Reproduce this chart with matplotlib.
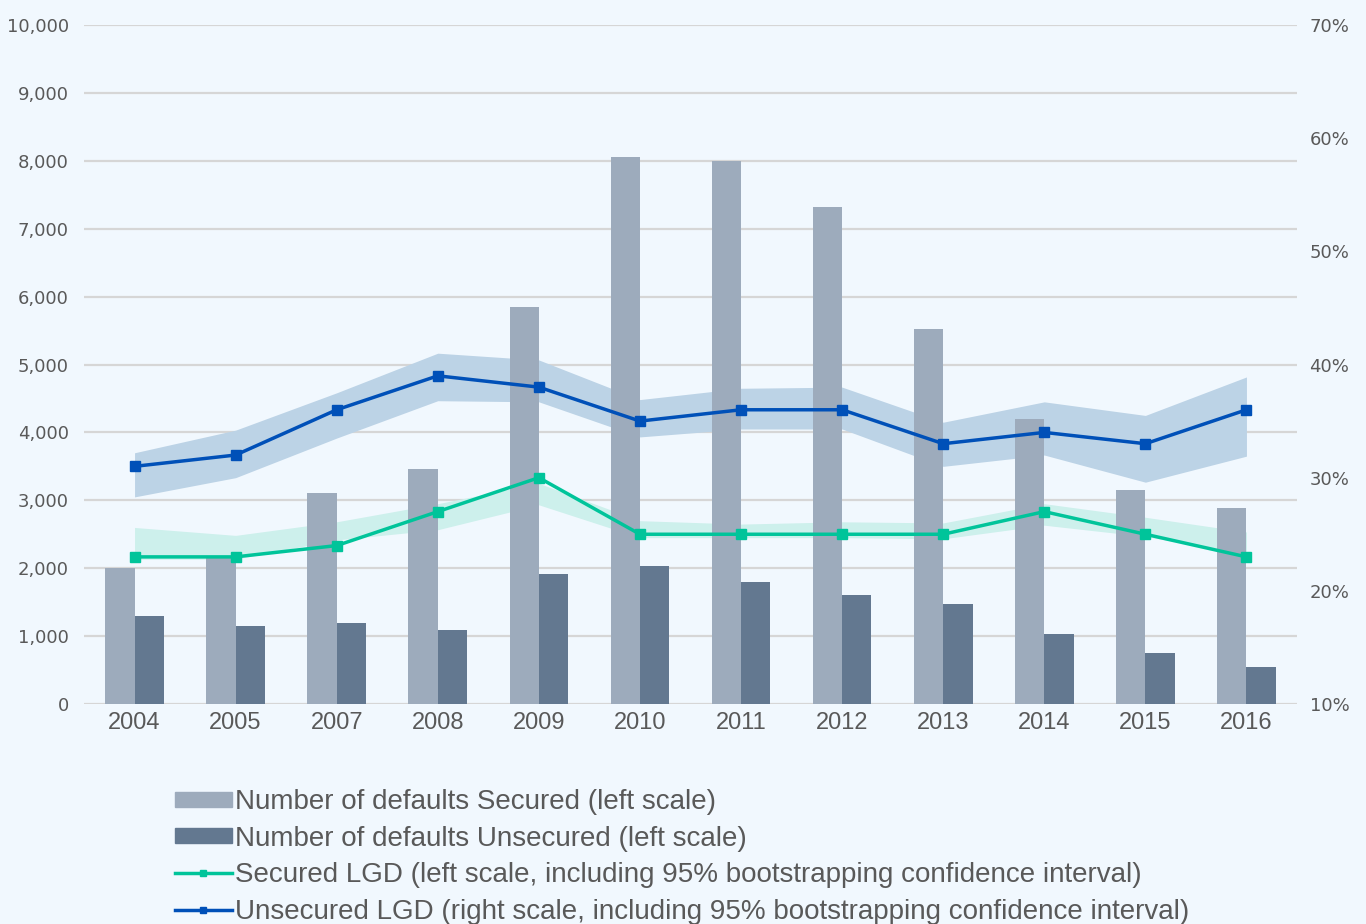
import matplotlib.pyplot as plt
from matplotlib.patches import Patch
from matplotlib.lines import Line2D
import numpy as np


years = ["2004", "2005", "2007", "2008", "2009", "2010", "2011", "2012", "2013", "2014", "2015", "2016"]

# number of defaults (left scale)
secured_n = [2010, 2150, 3110, 3460, 5850, 8050, 8000, 7320, 5520, 4200, 3150, 2890]
unsecured_n = [1290, 1150, 1200, 1090, 1910, 2030, 1790, 1610, 1470, 1030, 750, 540]

# LGD in % (right scale) with 95% bootstrap interval
secured_lgd = [23, 23, 24, 27, 30, 25, 25, 25, 25, 27, 25, 23]
secured_lo = [22.8, 22.8, 24.5, 25.4, 27.6, 24.7, 24.7, 24.7, 24.6, 25.8, 24.8, 23.3]
secured_hi = [25.6, 24.9, 26.1, 27.7, 29.5, 26.2, 25.9, 26.1, 26.0, 27.7, 26.5, 25.2]

unsecured_lgd = [31, 32, 36, 39, 38, 35, 36, 36, 33, 34, 33, 36]
unsecured_lo = [28.3, 30.0, 33.5, 36.8, 36.7, 33.6, 34.3, 34.3, 31.0, 32.0, 29.6, 31.9]
unsecured_hi = [32.2, 34.2, 37.5, 41.0, 40.4, 36.9, 37.9, 38.0, 34.9, 36.7, 35.5, 38.9]

left_ticks = list(range(0, 10001, 1000))
right_ticks = [10, 20, 30, 40, 50, 60, 70]

labels = ["Number of defaults Secured (left scale)",
          "Number of defaults Unsecured (left scale)",
          "Secured LGD (left scale, including 95% bootstrapping confidence interval)",
          "Unsecured LGD (right scale, including 95% bootstrapping confidence interval)"]

bg = "#f1f8fe"
c_sec_bar = "#9dabbc"
c_uns_bar = "#637890"
c_sec_line = "#00c49a"
c_sec_band = "#cdf0ec"
c_uns_line = "#0050b8"
c_uns_band = "#bcd3e6"
txt = "#595959"

fig = plt.figure(figsize=(13.66, 9.24), dpi=100, facecolor=bg)
ax = fig.add_axes([84 / 1366, 1 - 704 / 924, (1297 - 84) / 1366, (704 - 25) / 924])
ax.set_facecolor(bg)
axp = ax.twinx()

x = np.arange(len(years))
w = 0.29

ax.set_xlim(-0.5, len(years) - 0.5)
ax.set_ylim(0, 10000)
axp.set_ylim(10, 70)

# bands and lines live on ax (for stacking order) but use the percent scale
tp = axp.transData
ax.fill_between(x, unsecured_lo, unsecured_hi, color=c_uns_band, lw=0, zorder=1, transform=tp)
ax.fill_between(x, secured_lo, secured_hi, color=c_sec_band, lw=0, zorder=1, transform=tp)

ax.bar(x - w / 2, secured_n, width=w, color=c_sec_bar, zorder=2)
ax.bar(x + w / 2, unsecured_n, width=w, color=c_uns_bar, zorder=2)

ax.plot(x, secured_lgd, color=c_sec_line, lw=2.5, marker="s", ms=6.5, zorder=3, transform=tp)
ax.plot(x, unsecured_lgd, color=c_uns_line, lw=2.5, marker="s", ms=6.5, zorder=3, transform=tp)

ax.set_yticks(left_ticks)
ax.set_yticklabels([f"{v:,}" for v in left_ticks])
ax.grid(axis="y", color="#d6d6d6", lw=1.6, zorder=0)
ax.set_axisbelow(True)
ax.set_xticks(x)
ax.set_xticklabels(years, family="Liberation Sans", fontsize=17, color=txt)
ax.tick_params(axis="x", length=0, pad=6)
ax.tick_params(axis="y", length=0, pad=11, labelsize=13, labelcolor=txt)

axp.set_yticks(right_ticks)
axp.set_yticklabels([f"{v}%" for v in right_ticks])
axp.tick_params(axis="y", length=0, pad=9, labelsize=13, labelcolor=txt)

for a in (ax, axp):
    for s in a.spines.values():
        s.set_visible(False)

handles = [Patch(color=c_sec_bar), Patch(color=c_uns_bar),
           Line2D([], [], color=c_sec_line, lw=2.5, marker="s", ms=5),
           Line2D([], [], color=c_uns_line, lw=2.5, marker="s", ms=5)]
fig.legend(handles, labels, loc="upper left", bbox_to_anchor=(175 / 1366, 1 - 789 / 924),
           frameon=False, borderpad=0, borderaxespad=0, handlelength=2.05, handleheight=0.45,
           handletextpad=0.1, labelspacing=0.38,
           prop={"family": "Liberation Sans", "size": 20}, labelcolor=txt)

fig.savefig("out.png", dpi=100, facecolor=bg)
